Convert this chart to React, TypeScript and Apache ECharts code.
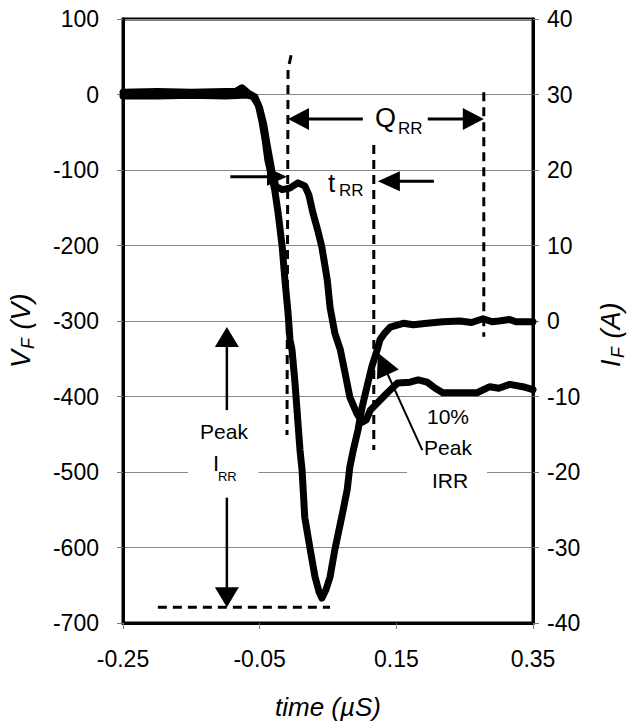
import React, { useEffect, useRef } from "react";
import * as echarts from "echarts";

// time (µs) and forward current (A) – right axis
const TIME_CURRENT = [
  -0.25, -0.2, -0.15, -0.1, -0.085, -0.076,
  -0.067, -0.061, -0.052, -0.047, -0.042, -0.038, -0.033,
  -0.028, -0.023, -0.017, -0.013, -0.0085, -0.0056, -0.0027, 0.0017, 0.009, 0.012, 0.016,
  0.024, 0.031, 0.037, 0.041, 0.047, 0.053, 0.06, 0.07, 0.078, 0.082, 0.087, 0.094, 0.1,
  0.107, 0.114, 0.122, 0.126, 0.133, 0.141, 0.16, 0.175, 0.195, 0.218, 0.243, 0.26, 0.277,
  0.29, 0.3, 0.316, 0.325, 0.35,
];
const CURRENT_A = [
  30.3, 30.4, 30.3, 30.4, 30.4, 30.9,
  30.2, 29.9, 28.6, 26.6, 24.0, 21.3, 19.3,
  17.4, 14.3, 9.8, 5.4, 1.1, -2.5, -3.8, -8.2, -17.1, -19.7, -26.0,
  -30.3, -33.9, -35.9, -36.7, -35.6, -33.9, -30.3, -26.0, -22.4, -19.3, -17.1, -14.4, -11.4,
  -8.7, -6.1, -3.8, -2.5, -1.6, -0.8, -0.3, -0.5, -0.3, -0.1, 0.0, -0.2, 0.3,
  -0.1, 0.0, 0.2, -0.1, -0.1,
];

// time (µs) and forward voltage (V) – left axis
const TIME_VOLTAGE = [
  -0.25, -0.2, -0.15, -0.1, -0.075, -0.067,
  -0.057, -0.05, -0.044, -0.039, -0.035, -0.031, -0.026,
  -0.017, -0.006, 0.006, 0.016, 0.022, 0.028, 0.035, 0.041, 0.049, 0.053, 0.06, 0.068, 0.075,
  0.082, 0.092, 0.1, 0.106, 0.112, 0.126, 0.138, 0.152, 0.17, 0.182, 0.195, 0.207, 0.218,
  0.243, 0.268, 0.287, 0.3, 0.316, 0.335, 0.35,
];
const VOLTAGE_V = [
  -2, -2, -1, -2, -1, -1,
  -3, -18, -40, -67, -87, -107, -122,
  -126, -124, -117, -121, -133, -157, -180, -202, -246, -282, -316, -338, -369,
  -401, -422, -434, -431, -418, -405, -394, -382, -381, -378, -381, -389, -395,
  -395, -395, -387, -389, -384, -387, -391,
];

// axis ranges (time axis is drawn shifted so ticks start at -0.25)
const X_MIN = -0.25;
const X_MAX = 0.35;
const X_STEP = 0.2;
const V_MIN = -700;
const V_MAX = 100;
const V_STEP = 100;
const I_MIN = -40;
const I_MAX = 40;
const I_STEP = 10;

// annotations, in (time, voltage) units
const DASHED = [
  [[-0.004, 52], [-0.0085, 33], [-0.01, -451]],
  [[0.117, -67], [0.117, -471]],
  [[0.278, 3], [0.278, -321]],
  [[-0.199, -679], [0.053, -679]],
];
const ARROWS = [
  { from: [0.101, -32.5], to: [-0.0085, -32.5], w: 3, len: 21, hw: 11 },
  { from: [0.196, -32.5], to: [0.278, -32.5], w: 3, len: 21, hw: 11 },
  { from: [-0.093, -109], to: [-0.01, -109], w: 3, len: 20, hw: 9 },
  { from: [0.205, -115], to: [0.123, -115], w: 3, len: 22, hw: 10 },
  { from: [-0.098, -418], to: [-0.098, -308], w: 2.5, len: 20, hw: 12 },
  { from: [-0.098, -534], to: [-0.098, -679], w: 2.5, len: 20, hw: 12 },
  { from: [0.188, -471], to: [0.123, -342], w: 2, len: 24, hw: 12 },
];

const FONT = '"Liberation Sans", Arial, Helvetica, sans-serif';

export default function App() {
  const ref = useRef<HTMLDivElement>(null);

  useEffect(() => {
    const chart = echarts.init(ref.current!, null, { renderer: "svg" });
    const off = -X_MIN;
    const labelStyle = { color: "#000", fontSize: 23, fontFamily: FONT };
    const tick = { show: true, length: 6, lineStyle: { color: "#777", width: 1 } };
    const axisLine = { show: true, onZero: false, lineStyle: { color: "#000", width: 3 } };

    chart.setOption({
      animation: false,
      backgroundColor: "#fff",
      grid: {
        left: 123, right: 99, top: 19, bottom: 102,
        show: true, borderColor: "#000", borderWidth: 3, backgroundColor: "transparent",
      },
      xAxis: {
        type: "value",
        min: 0,
        max: X_MAX - X_MIN,
        interval: X_STEP,
        axisLine,
        axisTick: tick,
        splitLine: { show: false },
        axisLabel: { ...labelStyle, margin: 24, formatter: (v: number) => (v - off).toFixed(2) },
      },
      yAxis: [
        {
          type: "value",
          position: "left",
          min: V_MIN, max: V_MAX, interval: V_STEP,
          axisLine, axisTick: tick,
          splitLine: { show: true, lineStyle: { color: "#888", width: 1 } },
          axisLabel: { ...labelStyle, margin: 24 },
        },
        {
          type: "value",
          position: "right",
          min: I_MIN, max: I_MAX, interval: I_STEP,
          axisLine, axisTick: tick,
          splitLine: { show: false },
          axisLabel: { ...labelStyle, margin: 14 },
        },
      ],
      series: [
        {
          type: "line",
          name: "IF",
          yAxisIndex: 1,
          showSymbol: false,
          symbol: "none",
          data: TIME_CURRENT.map((t, i) => [t + off, CURRENT_A[i]]),
          lineStyle: { color: "#000", width: 7, cap: "round", join: "round" },
          z: 3,
        },
        {
          type: "line",
          name: "VF",
          yAxisIndex: 0,
          showSymbol: false,
          symbol: "none",
          data: TIME_VOLTAGE.map((t, i) => [t + off, VOLTAGE_V[i]]),
          lineStyle: { color: "#000", width: 7, cap: "round", join: "round" },
          z: 3,
        },
      ],
    });

    const p = (t: number, v: number) =>
      chart.convertToPixel({ xAxisIndex: 0, yAxisIndex: 0 }, [t + off, v]) as number[];

    const g: any[] = [];
    const txt = (x: number, y: number, text: string, size: number, extra: any = {}) => ({
      type: "text",
      x, y, z: 20, silent: true,
      style: {
        text, fontSize: size, fontFamily: FONT, fill: "#000",
        align: "left", verticalAlign: "middle", ...extra,
      },
    });

    // white boxes that interrupt the gridline behind labels
    const box = (a: number[], b: number[]) => {
      const p1 = p(a[0], a[1]);
      const p2 = p(b[0], b[1]);
      g.push({
        type: "rect", z: 15, silent: true,
        shape: { x: p1[0], y: p1[1], width: p2[0] - p1[0], height: p2[1] - p1[1] },
        style: { fill: "#fff" },
      });
    };
    box([-0.155, -485], [-0.052, -515]);
    box([0.1656, -490], [0.2827, -525]);

    DASHED.forEach((pts) => {
      g.push({
        type: "polyline", z: 12, silent: true,
        shape: { points: pts.map((q) => p(q[0], q[1])) },
        style: { stroke: "#000", lineWidth: 3, lineDash: [9, 6], fill: null },
      });
    });

    ARROWS.forEach((a) => {
      const s = p(a.from[0], a.from[1]);
      const e = p(a.to[0], a.to[1]);
      const dx = e[0] - s[0];
      const dy = e[1] - s[1];
      const L = Math.hypot(dx, dy);
      const ux = dx / L;
      const uy = dy / L;
      const nx = -uy;
      const ny = ux;
      const bx = e[0] - ux * a.len;
      const by = e[1] - uy * a.len;
      g.push({
        type: "line", z: 21, silent: true,
        shape: { x1: s[0], y1: s[1], x2: bx + ux * 2, y2: by + uy * 2 },
        style: { stroke: "#000", lineWidth: a.w },
      });
      g.push({
        type: "polygon", z: 21, silent: true,
        shape: { points: [[e[0], e[1]], [bx + nx * a.hw, by + ny * a.hw], [bx - nx * a.hw, by - ny * a.hw]] },
        style: { fill: "#000" },
      });
    });

    // Q_RR
    let q = p(0.1188, -31);
    g.push(txt(q[0], q[1], "Q", 27));
    q = p(0.1524, -44.4);
    g.push(txt(q[0], q[1], "RR", 17));
    // t_RR
    q = p(0.05, -117.2);
    g.push(txt(q[0], q[1], "t", 26));
    q = p(0.0661, -126.5);
    g.push(txt(q[0], q[1], "RR", 17));
    // Peak I_RR (left)
    q = p(-0.1022, -447);
    g.push(txt(q[0], q[1], "Peak", 21, { align: "center" }));
    q = p(-0.1183, -489.4);
    g.push(txt(q[0], q[1], "I", 22));
    q = p(-0.111, -505.3);
    g.push(txt(q[0], q[1], "RR", 13));
    // 10% Peak IRR (right)
    q = p(0.2256, -427);
    g.push(txt(q[0], q[1], "10%", 21, { align: "center" }));
    q = p(0.2256, -468);
    g.push(txt(q[0], q[1], "Peak", 21, { align: "center" }));
    q = p(0.2285, -510.6);
    g.push(txt(q[0], q[1], "IRR", 21, { align: "center" }));

    // axis titles
    const italic = { fontStyle: "italic" };
    g.push({
      type: "group", x: 21, y: 322, rotation: Math.PI / 2, silent: true,
      children: [
        txt(-46, 0, "V", 27, italic),
        txt(-27, 7, "F", 18, italic),
        txt(-15, 0, " (V)", 27, italic),
      ],
    });
    g.push({
      type: "group", x: 611, y: 325, rotation: Math.PI / 2, silent: true,
      children: [
        txt(-42, 0, "I", 27, italic),
        txt(-33, 7, "F", 18, italic),
        txt(-21, 0, " (A)", 27, italic),
      ],
    });
    g.push(txt(328, 707, "time (\u00b5S)", 26, { ...italic, align: "center" }));

    chart.setOption({ graphic: g });

    return () => chart.dispose();
  }, []);

  return (
    <div
      ref={ref}
      style={{ position: "absolute", left: 0, top: 0, width: 632, height: 725, background: "#fff" }}
    />
  );
}
